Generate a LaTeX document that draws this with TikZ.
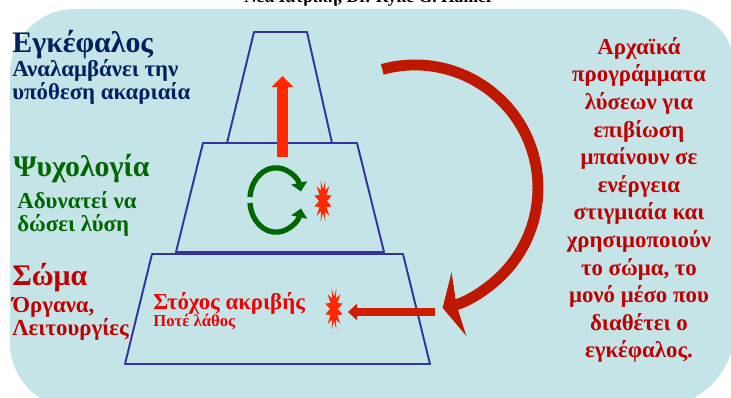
\documentclass[tikz,border=0pt]{standalone}
\usepackage{fontspec}
\setmainfont{Liberation Serif}
\usepackage{xcolor}
\definecolor{paleblue}{RGB}{196,228,231}
\definecolor{navytext}{RGB}{0,32,96}
\definecolor{leafgreen}{RGB}{0,102,0}
\definecolor{deepred}{RGB}{192,0,0}
\definecolor{brightred}{RGB}{240,0,0}
\definecolor{tierblue}{RGB}{51,51,160}
\definecolor{flame}{RGB}{255,40,0}
\definecolor{ember}{RGB}{210,28,0}
\definecolor{rust}{RGB}{190,24,0}
\usetikzlibrary{arrows.meta}

\begin{document}
\begin{tikzpicture}[x=0.02cm, y=-0.02cm,
  head/.style={font=\fontsize{17}{20}\selectfont\bfseries, anchor=base west, inner sep=0pt},
  note/.style={font=\fontsize{13}{13.5}\selectfont\bfseries, anchor=base west, inner sep=0pt, align=left},
  tier/.style={draw=tierblue, line width=1.1pt, line join=round},
  spark/.style={fill=flame},
  turn/.style={draw=leafgreen, line width=3pt, -{Triangle[length=5pt, width=9pt]}},
  riser/.style={draw=flame, line width=6.2pt, -{Triangle[length=6.2pt, width=12pt]}},
  push/.style={draw=ember, line width=4.5pt, -{Triangle[length=5pt, width=9pt]}},
  loop/.style={draw=rust, line width=6.2pt, -{Stealth[length=9.5pt, width=37pt, inset=1.5pt]}}
]
  \useasboundingbox (0,0) rectangle (731,398);
  \clip (0,0) rectangle (731,398);
  \fill[white] (0,0) rectangle (731,398);

  % Slide
  \fill[paleblue] (10,74) arc[start angle=180, end angle=270, radius=65]
    -- (675,9) arc[start angle=270, end angle=360, radius=60]
    -- (735,328) arc[start angle=0, end angle=90, radius=80]
    -- (75,408) arc[start angle=90, end angle=180, radius=65] -- cycle;
  \node[font=\fontsize{10}{12}\selectfont\bfseries, anchor=base] (source) at (369,3) {Νέα Ιατρική, Dr. Ryke G. Hamer};
  \node[font=\fontsize{10}{12}\selectfont\bfseries, anchor=base west] (page) at (727,395) {3};

  % Pyramid
  \draw[tier] (227,143) -- (254,32) -- (307,32) -- (332,143) -- cycle;
  \draw[tier] (176,252) -- (203,143) -- (357,143) -- (384,252) -- cycle;
  \draw[tier] (125,364) -- (152,254) -- (403,254) -- (430,364) -- cycle;

  % Left labels (notes sit on their last baseline)
  \node[head, text=navytext] (brain) at (12,53) {Εγκέφαλος};
  \node[note, text=navytext] (brainN) at (12,100) {Αναλαμβάνει την\\υπόθεση ακαριαία};
  \node[head, text=leafgreen] (psyche) at (13,177) {Ψυχολογία};
  \node[note, text=leafgreen] (psycheN) at (17,232) {Αδυνατεί να\\δώσει λύση};
  \node[head, text=deepred] (body) at (12,286) {Σώμα};
  \node[note, text=deepred] (bodyN) at (12,336) {Όργανα,\\Λειτουργίες};

  % Inside the base
  \node[font=\fontsize{13}{15}\selectfont\bfseries, text=brightred, anchor=base west, inner sep=0pt] (aim) at (153,310) {Στόχος ακριβής};
  \node[font=\fontsize{9.5}{11}\selectfont\bfseries, text=brightred, anchor=base west, inner sep=0pt] (never) at (153,327) {Ποτέ λάθος};

  % Right text
  \node[font=\fontsize{13}{15.7}\selectfont\bfseries, text=deepred, align=center, inner sep=0pt] (archaic) at (639,200)
    {Αρχαϊκά\\προγράμματα\\λύσεων για\\επιβίωση\\μπαίνουν σε\\ενέργεια\\στιγμιαία και\\χρησιμοποιούν\\το σώμα, το\\μονό μέσο που\\διαθέτει ο\\εγκέφαλος.};

  % Arrows
  \coordinate (riseS) at (282.5,157);
  \coordinate (riseE) at (282.5,76);
  \draw[riser] (riseS) -- (riseE);
  \coordinate (pushS) at (435,312);
  \coordinate (pushE) at (348,312);
  \draw[push] (pushS) -- (pushE);
  \draw[turn] (250,197) arc[start angle=185, end angle=345, x radius=26, y radius=32];
  \draw[turn] (250,203) arc[start angle=175, end angle=15, x radius=26, y radius=32];
  \coordinate (loopS) at (382.3,69.4);
  \draw[loop] (loopS) arc[start angle=254.6, end angle=437, radius=123];

  % Sparks
  \fill[spark] plot[samples=25, domain=0:360, variable=\t]
    ({323+(4+5*mod(round(\t/15),2))*cos(\t)}, {201+(12+9*mod(round(\t/15),2))*sin(\t)});
  \fill[spark] plot[samples=25, domain=0:360, variable=\t]
    ({334+(4+5*mod(round(\t/15),2))*cos(\t)}, {309+(12+9*mod(round(\t/15),2))*sin(\t)});
\end{tikzpicture}
\end{document}
